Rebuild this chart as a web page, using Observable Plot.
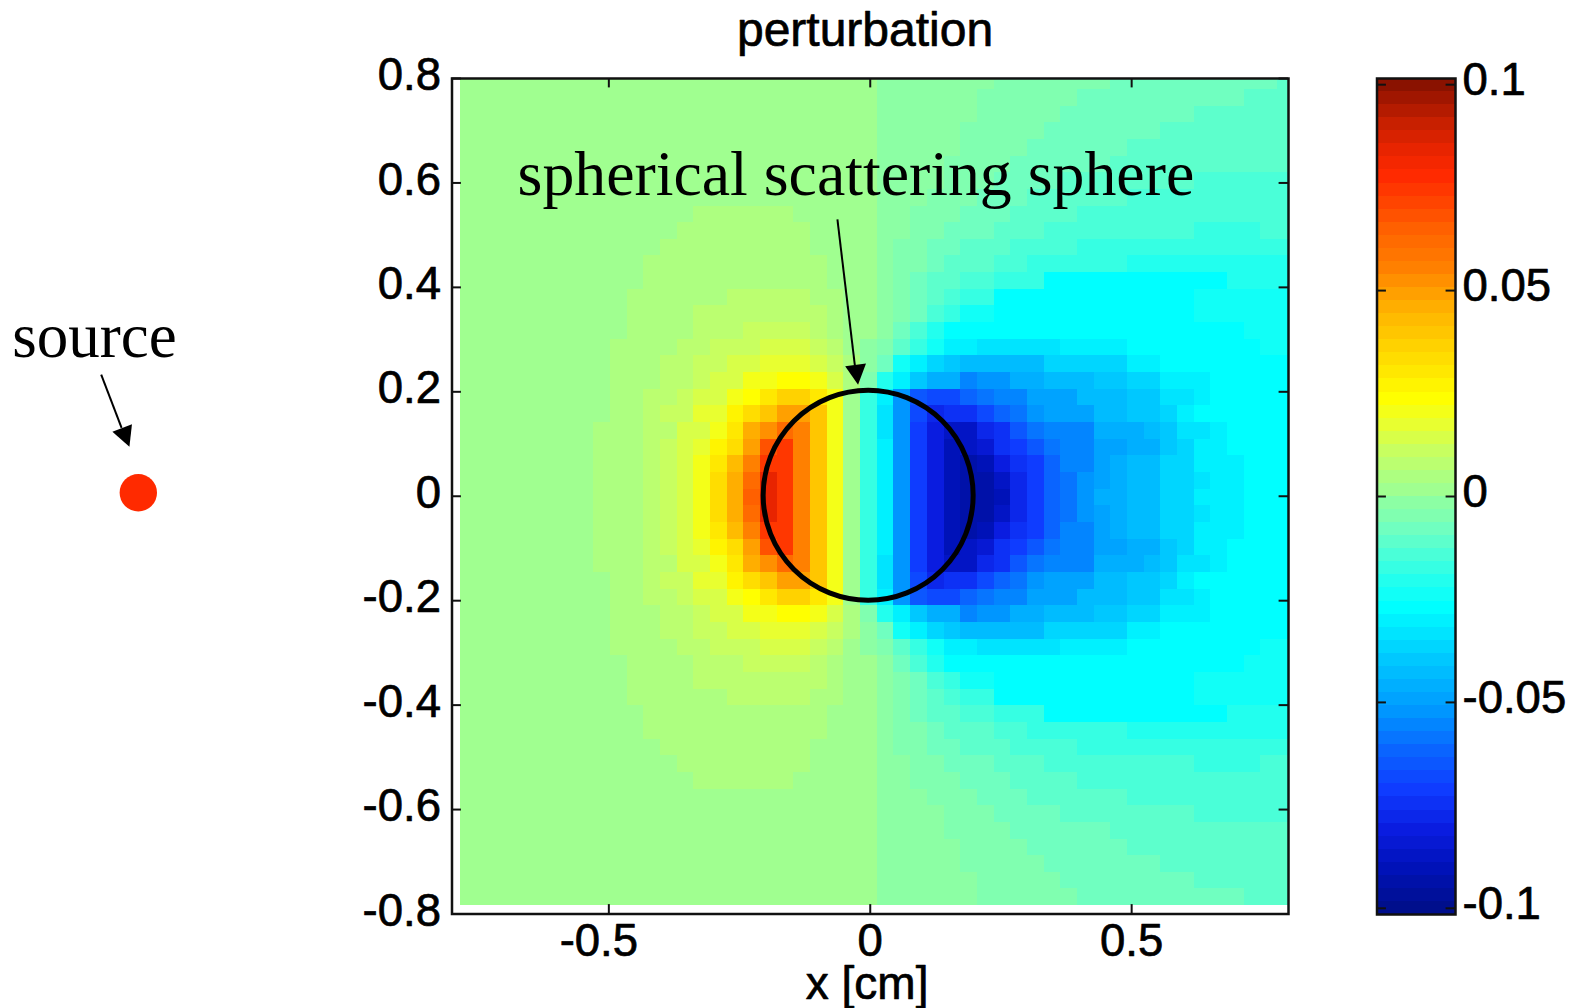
<!DOCTYPE html>
<html><head><meta charset="utf-8">
<script src="https://cdn.jsdelivr.net/npm/d3@7"></script>
<script src="https://cdn.jsdelivr.net/npm/@observablehq/plot@0.6"></script>
<style>
html,body{margin:0;padding:0;background:#fff}
#wrap{position:relative;width:1572px;height:1008px;overflow:hidden}
#wrap svg{position:absolute;left:0;top:0}
</style></head><body><div id="wrap"></div>
<script>
// Cell values in thousandths, row by row from the top.
// Each row is a run list: value, count, value, count ...
const perturbationRuns = [
[2,25,-2,7,-5,7,-8,10,-11,1],
[2,25,-2,6,-5,6,-8,10,-11,3],
[2,25,-2,6,-5,5,-8,8,-11,6],
[2,25,-2,5,-5,5,-8,7,-11,8],
[2,25,-2,5,-5,4,-8,6,-11,10],
[2,25,-2,4,-5,4,-8,6,-11,11],
[2,25,-2,4,-5,3,-8,4,-11,8,-14,6],
[2,25,-2,3,-5,3,-8,3,-11,6,-14,10],
[2,14,5,6,2,5,-2,2,-5,3,-8,3,-11,4,-14,13],
[2,13,5,8,2,4,-2,2,-5,2,-8,3,-11,3,-14,9,-17,4,-14,2],
[2,12,5,9,2,4,-2,1,-5,2,-8,2,-11,3,-14,4,-17,13],
[2,11,5,11,2,3,-2,1,-5,2,-8,1,-11,3,-14,2,-17,6,-21,10],
[2,11,5,11,2,3,-2,1,-5,1,-8,1,-11,2,-14,2,-17,3,-27,11,-21,4],
[2,10,5,6,8,5,5,2,2,2,-2,1,-5,1,-8,1,-11,1,-14,1,-17,2,-27,12,-24,6],
[2,10,5,4,8,8,5,1,2,2,-2,1,-5,1,-8,1,-14,1,-17,1,-24,2,-27,12,-24,6],
[2,10,5,4,8,3,11,4,8,1,5,1,2,2,-2,1,-8,1,-14,1,-21,1,-27,18,-24,3],
[2,9,5,4,8,2,11,3,14,3,11,1,8,1,2,1,-2,1,-5,1,-11,1,-17,1,-24,1,-30,2,-33,5,-30,4,-27,8,-24,2],
[2,9,5,3,8,2,11,2,14,2,17,3,14,1,11,1,5,1,-2,1,-8,1,-24,1,-30,1,-36,1,-40,1,-43,5,-36,5,-30,2,-27,8],
[2,9,5,3,8,2,11,1,14,2,21,2,24,2,21,1,14,1,5,1,-5,1,-21,1,-30,1,-40,1,-46,2,-55,1,-52,2,-46,2,-43,3,-40,2,-36,2,-30,3,-27,5],
[2,9,5,2,8,2,11,1,14,2,21,1,24,1,30,1,36,2,30,1,21,1,2,1,-17,1,-30,1,-52,1,-65,1,-68,2,-62,1,-59,1,-55,2,-49,3,-43,3,-40,2,-33,2,-30,1,-27,5],
[2,9,5,2,8,1,11,2,17,2,27,1,33,1,40,1,49,2,40,1,21,1,2,1,-17,1,-33,1,-52,1,-68,1,-78,1,-74,2,-68,1,-62,1,-59,1,-52,1,-49,3,-43,2,-40,2,-36,1,-30,1,-27,6],
[2,8,5,3,8,2,14,2,21,1,30,1,46,1,52,1,62,1,55,1,40,1,21,1,2,1,-17,1,-33,1,-52,1,-71,1,-81,1,-87,2,-78,1,-74,1,-65,1,-59,1,-55,3,-46,3,-43,1,-40,1,-33,2,-30,1,-27,4],
[2,8,5,3,8,1,11,1,14,1,17,1,27,1,33,1,49,1,68,1,74,1,55,1,40,1,21,1,2,1,-17,1,-30,1,-52,1,-71,1,-81,1,-90,1,-87,1,-84,1,-74,1,-71,1,-65,1,-59,1,-55,2,-49,2,-46,2,-40,1,-36,1,-30,2,-27,4],
[2,8,5,3,8,1,11,1,14,1,21,1,30,1,43,1,55,1,74,2,55,1,40,1,21,1,2,1,-17,1,-30,1,-52,1,-71,1,-81,1,-90,1,-94,1,-90,1,-81,1,-74,1,-71,1,-62,1,-55,2,-49,1,-46,1,-43,2,-36,2,-30,3,-27,3],
[2,8,5,3,8,1,11,1,14,1,21,1,33,1,46,1,62,1,84,1,74,1,55,1,40,1,21,1,2,1,-17,1,-30,1,-52,1,-71,1,-81,1,-90,1,-94,2,-87,1,-78,1,-71,1,-62,1,-59,1,-52,1,-49,1,-46,1,-43,2,-36,2,-33,1,-30,2,-27,3],
[2,8,5,3,8,1,11,1,14,1,21,1,33,1,46,1,65,1,84,1,74,1,55,1,40,1,21,1,2,1,-17,1,-30,1,-52,1,-71,1,-81,1,-90,1,-94,2,-90,1,-78,1,-71,1,-62,1,-59,1,-52,1,-46,2,-43,2,-36,2,-30,3,-27,3],
[2,8,5,3,8,1,11,1,14,1,21,1,33,1,46,1,62,1,84,1,74,1,55,1,40,1,21,1,2,1,-17,1,-30,1,-52,1,-71,1,-81,1,-90,1,-94,2,-87,1,-78,1,-71,1,-62,1,-59,1,-52,1,-49,1,-46,1,-43,2,-36,2,-33,1,-30,2,-27,3],
[2,8,5,3,8,1,11,1,14,1,21,1,30,1,43,1,55,1,74,2,55,1,40,1,21,1,2,1,-17,1,-30,1,-52,1,-71,1,-81,1,-90,1,-94,1,-90,1,-81,1,-74,1,-71,1,-62,1,-55,2,-49,1,-46,1,-43,2,-36,2,-30,3,-27,3],
[2,8,5,3,8,1,11,1,14,1,17,1,27,1,33,1,49,1,68,1,74,1,55,1,40,1,21,1,2,1,-17,1,-30,1,-52,1,-71,1,-81,1,-90,1,-87,1,-84,1,-74,1,-71,1,-65,1,-59,1,-55,2,-49,2,-46,2,-40,1,-36,1,-30,2,-27,4],
[2,8,5,3,8,2,14,2,21,1,30,1,46,1,52,1,62,1,55,1,40,1,21,1,2,1,-17,1,-33,1,-52,1,-71,1,-81,1,-87,2,-78,1,-74,1,-65,1,-59,1,-55,3,-46,3,-43,1,-40,1,-33,2,-30,1,-27,4],
[2,9,5,2,8,1,11,2,17,2,27,1,33,1,40,1,49,2,40,1,21,1,2,1,-17,1,-33,1,-52,1,-68,1,-78,1,-74,2,-68,1,-62,1,-59,1,-52,1,-49,3,-43,2,-40,2,-36,1,-30,1,-27,6],
[2,9,5,2,8,2,11,1,14,2,21,1,24,1,30,1,36,2,30,1,21,1,2,1,-17,1,-30,1,-52,1,-65,1,-68,2,-62,1,-59,1,-55,2,-49,3,-43,3,-40,2,-33,2,-30,1,-27,5],
[2,9,5,3,8,2,11,1,14,2,21,2,24,2,21,1,14,1,5,1,-5,1,-21,1,-30,1,-40,1,-46,2,-55,1,-52,2,-46,2,-43,3,-40,2,-36,2,-30,3,-27,5],
[2,9,5,3,8,2,11,2,14,2,17,3,14,1,11,1,5,1,-2,1,-8,1,-24,1,-30,1,-36,1,-40,1,-43,5,-36,5,-30,2,-27,8],
[2,9,5,4,8,2,11,3,14,3,11,1,8,1,2,1,-2,1,-5,1,-11,1,-17,1,-24,1,-30,2,-33,5,-30,4,-27,8,-24,2],
[2,10,5,4,8,3,11,4,8,1,5,1,2,2,-2,1,-8,1,-14,1,-21,1,-27,18,-24,3],
[2,10,5,4,8,8,5,1,2,2,-2,1,-5,1,-8,1,-14,1,-17,1,-24,2,-27,12,-24,6],
[2,10,5,6,8,5,5,2,2,2,-2,1,-5,1,-8,1,-11,1,-14,1,-17,2,-27,12,-24,6],
[2,11,5,11,2,3,-2,1,-5,1,-8,1,-11,2,-14,2,-17,3,-27,11,-21,4],
[2,11,5,11,2,3,-2,1,-5,2,-8,1,-11,3,-14,2,-17,6,-21,10],
[2,12,5,9,2,4,-2,1,-5,2,-8,2,-11,3,-14,4,-17,13],
[2,13,5,8,2,4,-2,2,-5,2,-8,3,-11,3,-14,9,-17,4,-14,2],
[2,14,5,6,2,5,-2,2,-5,3,-8,3,-11,4,-14,13],
[2,25,-2,3,-5,3,-8,3,-11,6,-14,10],
[2,25,-2,4,-5,3,-8,4,-11,8,-14,6],
[2,25,-2,4,-5,4,-8,6,-11,11],
[2,25,-2,5,-5,4,-8,6,-11,10],
[2,25,-2,5,-5,5,-8,7,-11,8],
[2,25,-2,6,-5,5,-8,8,-11,6],
[2,25,-2,6,-5,6,-8,10,-11,3]
];
const xTicks = [-0.5, 0, 0.5];
const yTicks = [-0.8, -0.6, -0.4, -0.2, 0, 0.2, 0.4, 0.6, 0.8];
const barTicks = [-0.1, -0.05, 0, 0.05, 0.1];
// Colormap stops (level 1..64 -> colour) as seen on the colour bar.
const colorLevels = [1,4,7,10,13,16,20,24,26,28,30,31,32,33,36,38,40,43,46,48,50,53,55,57,59,61,63,64];
const colorStops = ["#000f8c","#0012b8","#0a1ce0","#0f3cff","#0a64ff","#0096ff","#00c8ff","#00ffff","#22ffee","#4affd8","#70ffc0","#80ffb0","#8cffa4","#a0ff90","#c8ff60","#e8ff30","#ffff00","#ffdd00","#ffbb00","#ffa000","#ff8000","#ff6000","#ff4400","#ff2a00","#e82400","#c82000","#a01600","#8a1200"];
const circleCentre = [{x: -0.004, y: 0.002}];
const sourcePoint = [{x: -1.4, y: 0.0067}];
const arrows = [
  {x1: -1.471, y1: 0.233, x2: -1.432, y2: 0.131, tipX: -1.417, tipY: 0.095, rotate: -21.25},
  {x1: -0.0628, y1: 0.530, x2: -0.0295, y2: 0.251, tipX: -0.0233, tipY: 0.2136, rotate: -7.1}
];
const sourceLabel = [{x: -1.641, y: 0.267, text: "source"}];
const sphereLabel = [{x: -0.6746, y: 0.5776, text: "spherical scattering sphere"}];
const titleText = [{x: -0.01, y: 0.863, text: "perturbation"}];
const xLabel = [{x: -0.006, y: -0.962, text: "x [cm]"}];

const gridOrigin = -0.784, gridStep = 0.0319;
const cells = perturbationRuns.flatMap((runs, r) => {
  const row = [];
  for (let i = 0; i < runs.length; i += 2) for (let n = 0; n < runs[i + 1]; n++) row.push(runs[i]);
  return row.map((v, c) => ({
    x1: gridOrigin + c * gridStep, x2: gridOrigin + (c + 1) * gridStep,
    y2: gridOrigin + (50 - r) * gridStep, y1: gridOrigin + (49 - r) * gridStep,
    v: v / 1000
  }));
});

const stopScale = d3.scaleLinear().domain(colorLevels).range(colorStops).interpolate(d3.interpolateRgb);
const palette = d3.range(1, 65).map(k => d3.color(stopScale(k)).formatHex());
const colorMax = 0.1015;
const colorOpt = {type: "quantize", domain: [-colorMax, colorMax], range: palette};
const levelSize = 2 * colorMax / 64;
const levels = d3.range(64).map(i => ({y1: -colorMax + i * levelSize, y2: -colorMax + (i + 1) * levelSize, v: -colorMax + (i + 0.5) * levelSize}));

const sans = "'Liberation Sans', Arial, sans-serif";
const serif = "'Liberation Serif', 'Times New Roman', serif";
const fmt = d => String(d);
const arrowHead = {draw(ctx) { ctx.moveTo(0, 0); ctx.lineTo(-10.5, -20); ctx.lineTo(10.5, -20); ctx.closePath(); }};
const axisText = {fontSize: 45.5, fontFamily: sans, fill: "#000", tickFormat: fmt, label: null, tickSize: 0, textStroke: "#000", textStrokeWidth: 0.7};

const main = Plot.plot({
  width: 1572, height: 1008,
  marginLeft: 451.5, marginRight: 284, marginTop: 78, marginBottom: 94.5,
  style: {background: "transparent", overflow: "visible"},
  x: {domain: [-0.8, 0.8], axis: null},
  y: {domain: [-0.8, 0.8], axis: null},
  color: colorOpt,
  marks: [
    Plot.rect(cells, {x1: "x1", x2: "x2", y1: "y1", y2: "y2", fill: "v", clip: true, shapeRendering: "crispEdges"}),
    Plot.frame({stroke: "#111", strokeWidth: 2.5}),
    Plot.ruleX(xTicks, {x: d => d, y1: -0.8, y2: -0.782, stroke: "#111", strokeWidth: 2}),
    Plot.ruleX(xTicks, {x: d => d, y1: 0.8, y2: 0.782, stroke: "#111", strokeWidth: 2}),
    Plot.ruleY(yTicks, {y: d => d, x1: -0.8, x2: -0.782, stroke: "#111", strokeWidth: 2}),
    Plot.ruleY(yTicks, {y: d => d, x1: 0.8, x2: 0.782, stroke: "#111", strokeWidth: 2}),
    Plot.axisY(yTicks, {anchor: "left", tickPadding: 11, dy: -3, ...axisText}),
    Plot.axisX(xTicks.filter(d => d < 0), {anchor: "bottom", tickPadding: 10, dx: -10, ...axisText}),
    Plot.axisX(xTicks.filter(d => d >= 0), {anchor: "bottom", tickPadding: 10, ...axisText}),
    Plot.dot(circleCentre, {x: "x", y: "y", r: 105, stroke: "#000", strokeWidth: 5, fill: "none"}),
    Plot.dot(sourcePoint, {x: "x", y: "y", r: 18.7, fill: "#ff2a00", stroke: "none"}),
    Plot.link(arrows, {x1: "x1", y1: "y1", x2: "x2", y2: "y2", stroke: "#000", strokeWidth: 2}),
    Plot.dot(arrows, {x: "tipX", y: "tipY", r: 5, symbol: arrowHead, rotate: "rotate", fill: "#000", stroke: "none"}),
    Plot.text(sourceLabel, {x: "x", y: "y", text: "text", textAnchor: "start", lineAnchor: "bottom", fontSize: 63, fontFamily: serif, fill: "#000"}),
    Plot.text(sphereLabel, {x: "x", y: "y", text: "text", textAnchor: "start", lineAnchor: "bottom", fontSize: 63.8, fontFamily: serif, fill: "#000"}),
    Plot.text(titleText, {x: "x", y: "y", text: "text", textAnchor: "middle", lineAnchor: "bottom", fontSize: 48, fontFamily: sans, fill: "#000", stroke: "#000", strokeWidth: 0.7}),
    Plot.text(xLabel, {x: "x", y: "y", text: "text", textAnchor: "middle", lineAnchor: "bottom", fontSize: 46, fontFamily: sans, fill: "#000", stroke: "#000", strokeWidth: 0.7})
  ]
});

const bar = Plot.plot({
  width: 1572, height: 1008,
  marginLeft: 1376.5, marginRight: 117, marginTop: 78, marginBottom: 94,
  style: {background: "transparent", overflow: "visible"},
  x: {domain: [0, 1], axis: null},
  y: {domain: [-colorMax, colorMax], axis: null},
  color: colorOpt,
  marks: [
    Plot.rect(levels, {x1: 0, x2: 1, y1: "y1", y2: "y2", fill: "v", shapeRendering: "crispEdges"}),
    Plot.frame({stroke: "#111", strokeWidth: 2.5}),
    Plot.ruleY(barTicks, {y: d => d, x1: 0, x2: 0.12, stroke: "#111", strokeWidth: 2}),
    Plot.ruleY(barTicks, {y: d => d, x1: 1, x2: 0.88, stroke: "#111", strokeWidth: 2}),
    Plot.axisY(barTicks, {anchor: "right", tickPadding: 7, dy: -4, ...axisText})
  ]
});

document.getElementById("wrap").append(main, bar);
</script></body></html>
